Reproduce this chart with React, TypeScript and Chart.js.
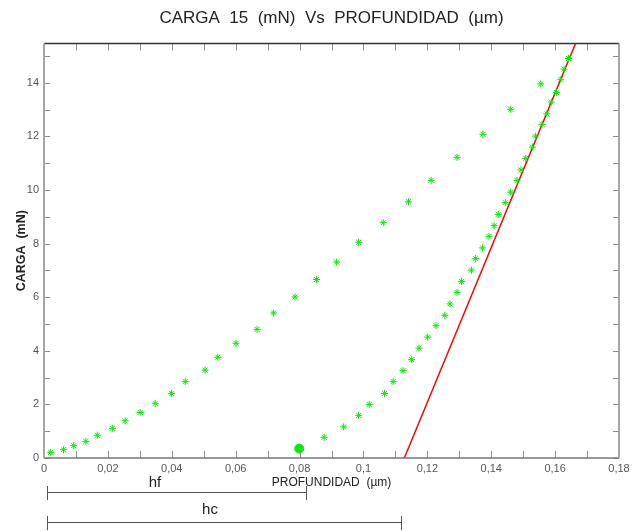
import { useEffect, useRef } from "react";
import { Chart, registerables } from "chart.js";

Chart.register(...registerables);

const titleText = "CARGA  15  (mN)  Vs  PROFUNDIDAD  (µm)";
const yAxisTitle = "CARGA  (mN)";
const xAxisTitle = "PROFUNDIDAD  (µm)";

// Loading branch (depth µm, load mN)
const loadingX = [
  0.0021, 0.0061, 0.0093, 0.0131, 0.0167, 0.0214, 0.0254, 0.0301, 0.0348, 0.0399,
  0.0442, 0.0504, 0.0544, 0.0601, 0.0667, 0.0719, 0.0786, 0.0853, 0.0916, 0.0985,
  0.1062, 0.1141, 0.1212, 0.1293, 0.1374, 0.1461, 0.1555, 0.1642,
];
const loadingY = [
  0.21, 0.31, 0.46, 0.62, 0.85, 1.11, 1.39, 1.70, 2.04, 2.41,
  2.85, 3.28, 3.76, 4.28, 4.80, 5.41, 6.01, 6.66, 7.31, 8.05,
  8.78, 9.56, 10.36, 11.22, 12.08, 13.01, 13.96, 14.91,
];

// Unloading branch
const unloadingX = [
  0.1642, 0.1628, 0.1618, 0.1604, 0.1588, 0.1574, 0.1559, 0.1539, 0.1529, 0.1508,
  0.1493, 0.1481, 0.1461, 0.1444, 0.1422, 0.1409, 0.1393, 0.1373, 0.1351, 0.1338,
  0.1307, 0.1293, 0.1271, 0.1255, 0.1227, 0.1201, 0.1174, 0.1151, 0.1124, 0.1093,
  0.1066, 0.1018, 0.0985, 0.0938, 0.0877,
];
const unloadingY = [
  14.91, 14.51, 14.13, 13.64, 13.28, 12.84, 12.45, 12.01, 11.60, 11.18,
  10.75, 10.35, 9.92, 9.53, 9.09, 8.67, 8.27, 7.84, 7.44, 7.01,
  6.59, 6.18, 5.75, 5.32, 4.94, 4.51, 4.10, 3.67, 3.26, 2.85,
  2.41, 2.00, 1.59, 1.16, 0.77,
];

// Residual depth marker
const markX = [0.0799];
const markY = [0.35];

// Tangent (stiffness) line
const fitX = [0.1128, 0.1672];
const fitY = [0, 15.7];

const xMin = 0;
const xMax = 0.18;
const yMin = 0;
const yMax = 15.47;
const xTickValues = [
  0, 0.01, 0.02, 0.03, 0.04, 0.05, 0.06, 0.07, 0.08, 0.09,
  0.1, 0.11, 0.12, 0.13, 0.14, 0.15, 0.16, 0.17, 0.18,
];
const yTickValues = [0, 1, 2, 3, 4, 5, 6, 7, 8, 9, 10, 11, 12, 13, 14, 15];

const hfRange = [0.001, 0.082];
const hcRange = [0.001, 0.1119];
const hfLabel = "hf";
const hcLabel = "hc";

const NARROW = '"Liberation Sans Narrow", "Arial Narrow", "Liberation Sans", Arial, sans-serif';
const SANS = '"Liberation Sans", Arial, sans-serif';

const toPts = (xs: number[], ys: number[]) => xs.map((x, i) => ({ x, y: ys[i] }));

const fmtX = (v: number) => {
  const hundredths = Math.round(v * 100);
  if (hundredths % 2 !== 0) return "";
  if (hundredths === 0) return "0";
  return String(Number(v.toFixed(2))).replace(".", ",");
};

const framePlugin = {
  id: "frameTicks",
  afterDraw(chart: any) {
    const { ctx, chartArea: a, scales } = chart;
    const xs = scales.x;
    const ys = scales.y;
    ctx.save();
    // inward tick marks on all four sides
    ctx.strokeStyle = "#8c8c8c";
    ctx.lineWidth = 1;
    ctx.beginPath();
    for (const t of xs.ticks) {
      const px = Math.round(xs.getPixelForValue(t.value)) + 0.5;
      ctx.moveTo(px, a.bottom);
      ctx.lineTo(px, a.bottom - 7);
      ctx.moveTo(px, a.top);
      ctx.lineTo(px, a.top + 7);
    }
    for (const t of ys.ticks) {
      const py = Math.round(ys.getPixelForValue(t.value)) + 0.5;
      ctx.moveTo(a.left, py);
      ctx.lineTo(a.left + 6, py);
      ctx.moveTo(a.right, py);
      ctx.lineTo(a.right - 6, py);
    }
    ctx.stroke();

    // frame
    ctx.lineWidth = 1.5;
    ctx.strokeStyle = "#333";
    ctx.beginPath();
    ctx.moveTo(a.left, a.top);
    ctx.lineTo(a.right, a.top);
    ctx.stroke();
    ctx.strokeStyle = "#777";
    ctx.beginPath();
    ctx.moveTo(a.left, a.bottom);
    ctx.lineTo(a.right, a.bottom);
    ctx.stroke();
    ctx.lineWidth = 2;
    ctx.strokeStyle = "#a6a6a6";
    ctx.beginPath();
    ctx.moveTo(a.left, a.top);
    ctx.lineTo(a.left, a.bottom);
    ctx.moveTo(a.right, a.top);
    ctx.lineTo(a.right, a.bottom);
    ctx.stroke();

    // hf / hc dimension lines below the axis
    const drawDim = (range: number[], yLine: number, label: string, labelX: number, labelY: number) => {
      const x0 = Math.round(xs.getPixelForValue(range[0])) + 0.5;
      const x1 = Math.round(xs.getPixelForValue(range[1])) + 0.5;
      ctx.strokeStyle = "#555";
      ctx.lineWidth = 1;
      ctx.beginPath();
      ctx.moveTo(x0, yLine + 0.5);
      ctx.lineTo(x1, yLine + 0.5);
      ctx.moveTo(x0, yLine - 6);
      ctx.lineTo(x0, yLine + 8);
      ctx.moveTo(x1, yLine - 6);
      ctx.lineTo(x1, yLine + 8);
      ctx.stroke();
      ctx.fillStyle = "#222";
      ctx.font = `15px ${NARROW}`;
      ctx.textAlign = "center";
      ctx.textBaseline = "middle";
      ctx.fillText(label, labelX, labelY);
    };
    drawDim(hfRange, 492, hfLabel, 155, 483);
    drawDim(hcRange, 522, hcLabel, 210, 510);
    ctx.restore();
  },
};

export default function App() {
  const canvasRef = useRef<HTMLCanvasElement | null>(null);

  useEffect(() => {
    const canvas = canvasRef.current;
    if (!canvas) return;
    const chart = new Chart(canvas, {
      type: "scatter",
      data: {
        datasets: [
          {
            label: "loading",
            data: toPts(loadingX, loadingY),
            pointStyle: "star",
            pointRadius: 3.5,
            pointBorderWidth: 1,
            borderColor: "#00ee00",
            backgroundColor: "#00ee00",
            showLine: false,
          },
          {
            label: "unloading",
            data: toPts(unloadingX, unloadingY),
            pointStyle: "star",
            pointRadius: 3.5,
            pointBorderWidth: 1,
            borderColor: "#00ee00",
            backgroundColor: "#00ee00",
            showLine: false,
          },
          {
            label: "hf",
            data: toPts(markX, markY),
            pointStyle: "circle",
            pointRadius: 4.5,
            borderColor: "#00ee00",
            backgroundColor: "#00ee00",
            showLine: false,
          },
          {
            label: "fit",
            data: toPts(fitX, fitY),
            showLine: true,
            pointRadius: 0,
            borderColor: "#ff0000",
            borderWidth: 1.5,
          },
        ],
      },
      options: {
        animation: false,
        responsive: false,
        maintainAspectRatio: false,
        layout: { padding: { left: 20, right: 0, top: 0, bottom: 0 } },
        plugins: {
          legend: { display: false },
          tooltip: { enabled: false },
          title: {
            display: true,
            text: titleText,
            color: "#222",
            font: { family: NARROW, size: 17, weight: "normal", lineHeight: 1.2 },
            padding: { top: 8, bottom: 15 },
          },
        },
        scales: {
          x: {
            type: "linear",
            min: xMin,
            max: xMax,
            afterBuildTicks: (scale: any) => {
              scale.ticks = xTickValues.map((v) => ({ value: v }));
            },
            afterFit: (scale: any) => {
              scale.height = 73;
            },
            grid: { display: false, drawTicks: false },
            border: { display: false },
            ticks: {
              autoSkip: false,
              maxRotation: 0,
              padding: 4,
              color: "#555",
              font: { family: NARROW, size: 11 },
              callback: (v: any) => fmtX(Number(v)),
            },
            title: {
              display: true,
              text: xAxisTitle,
              color: "#222",
              font: { family: NARROW, size: 12, lineHeight: 1.2 },
              padding: { top: 0, bottom: 41.5 },
            },
          },
          y: {
            type: "linear",
            min: yMin,
            max: yMax,
            afterBuildTicks: (scale: any) => {
              scale.ticks = yTickValues.map((v) => ({ value: v }));
            },
            afterFit: (scale: any) => {
              scale.width = 24;
            },
            grid: { display: false, drawTicks: false },
            border: { display: false },
            ticks: {
              autoSkip: false,
              padding: 5,
              color: "#555",
              font: { family: NARROW, size: 11 },
              callback: (v: any) => (Number(v) % 2 === 0 ? String(v) : ""),
            },
            title: {
              display: true,
              text: yAxisTitle,
              color: "#222",
              font: { family: SANS, size: 12.5, weight: "bold", lineHeight: 1.2 },
              padding: { top: -5.5, bottom: 0 },
            },
          },
          yRight: {
            type: "linear",
            position: "right",
            display: true,
            min: yMin,
            max: yMax,
            afterFit: (scale: any) => {
              scale.width = 24;
            },
            grid: { display: false, drawTicks: false },
            border: { display: false },
            ticks: { display: false },
          },
        },
      },
      plugins: [framePlugin],
    });
    return () => chart.destroy();
  }, []);

  return (
    <div style={{ position: "absolute", left: 0, top: 0, width: 643, height: 531, background: "#fff" }}>
      <canvas ref={canvasRef} width={643} height={531} style={{ width: 643, height: 531, display: "block" }} />
    </div>
  );
}
